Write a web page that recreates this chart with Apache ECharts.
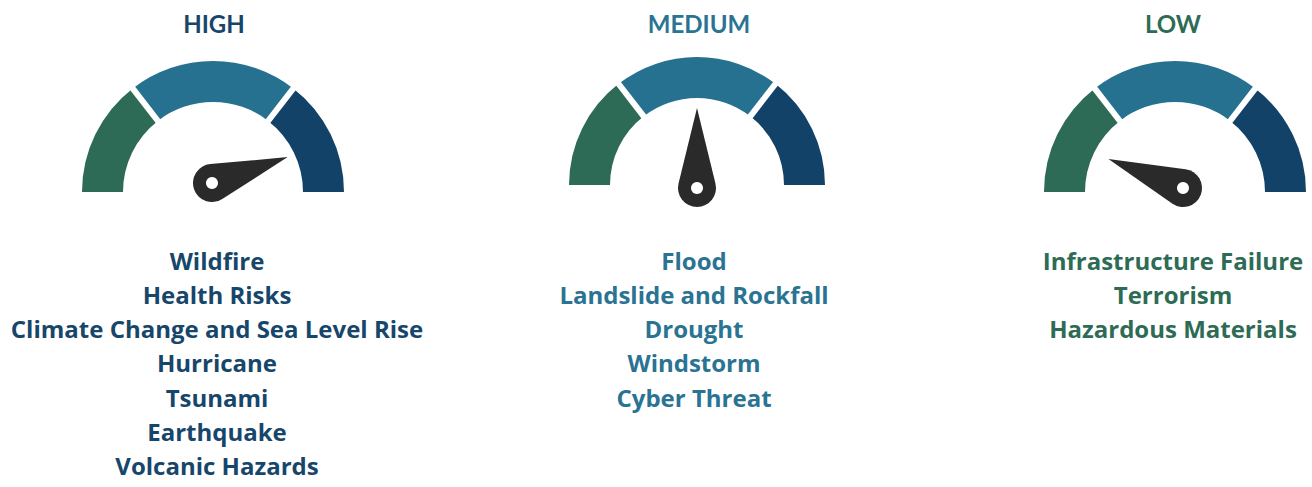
<!DOCTYPE html>
<html><head><meta charset="utf-8">
<script src="https://cdn.jsdelivr.net/npm/echarts@6/dist/echarts.min.js"></script>
<style>html,body{margin:0;padding:0;background:#fff}#chart{width:1312px;height:487px}</style>
</head><body><div id="chart"></div>
<script>
// ---- data ----
const levels = ['HIGH', 'MEDIUM', 'LOW'];
const needleValues = [89.5, 50, 11.8];
const bandStops = [0.29, 0.71, 1];
const highHazards = ['Wildfire', 'Health Risks', 'Climate Change and Sea Level Rise', 'Hurricane', 'Tsunami', 'Earthquake', 'Volcanic Hazards'];
const mediumHazards = ['Flood', 'Landslide and Rockfall', 'Drought', 'Windstorm', 'Cyber Threat'];
const lowHazards = ['Infrastructure Failure', 'Terrorism', 'Hazardous Materials'];

// ---- styles / layout ----
const hazardLists = [highHazards, mediumHazards, lowHazards];
const bandColors = ['#2e6b56', '#26718f', '#124267'];
const textColors = ['#17466b', '#2a7393', '#2e6b55'];
const needleColor = '#2a2a2a';
const TITLE_FONT = 'bold 24px Lato, "Open Sans", sans-serif';
const LIST_FONT = 'bold 24px "Open Sans", Lato, sans-serif';
const layout = [
  { arc: [213, 192], r: 131, pivot: [212, 183], tx: 214, lx: 217 },
  { arc: [697, 185], r: 128, pivot: [697, 188], tx: 699, lx: 694 },
  { arc: [1175, 192], r: 131, pivot: [1183, 188], tx: 1173, lx: 1173 }
];
const ringWidth = 41;
const listTop = 260, listStep = 34.3;

const hidden = {
  splitLine: { show: false }, axisTick: { show: false }, axisLabel: { show: false },
  title: { show: false }, detail: { show: false }
};
const series = [];
const graphic = [];
levels.forEach((lvl, i) => {
  const L = layout[i];
  // coloured bands
  series.push(Object.assign({
    type: 'gauge', center: L.arc, radius: L.r, startAngle: 180, endAngle: 0, min: 0, max: 100,
    axisLine: { lineStyle: { width: ringWidth, color: bandStops.map((s, j) => [s, bandColors[j]]) } },
    pointer: { show: false }, anchor: { show: false }, silent: true,
    data: [{ value: needleValues[i], name: lvl }]
  }, hidden));
  // white gaps between bands
  series.push(Object.assign({}, hidden, {
    type: 'gauge', center: L.arc, radius: L.r,
    startAngle: 180 - bandStops[0] * 180, endAngle: 180 - bandStops[1] * 180,
    min: 0, max: 1, splitNumber: 1,
    axisLine: { show: false, lineStyle: { width: ringWidth } },
    splitLine: { show: true, distance: -ringWidth - 2, length: ringWidth + 4, lineStyle: { color: '#ffffff', width: 6 } },
    pointer: { show: false }, anchor: { show: false }, silent: true,
    data: []
  }));
  // needle
  series.push(Object.assign({}, hidden, {
    type: 'gauge', center: L.pivot, radius: 100, startAngle: 180, endAngle: 0, min: 0, max: 100,
    axisLine: { show: false },
    pointer: {
      show: true, icon: 'path://M0,-80L18.46,-4.5A19,19,0,1,1,-18.46,-4.5Z',
      width: 38, length: 99, offsetCenter: [0, 19], keepAspect: false,
      itemStyle: { color: needleColor }
    },
    anchor: { show: true, showAbove: true, size: 12, icon: 'circle', itemStyle: { color: '#ffffff' } },
    silent: true,
    data: [{ value: needleValues[i], name: lvl }]
  }));
  // level title
  graphic.push({
    type: 'text', x: L.tx, y: 23,
    style: { text: lvl, fill: textColors[i], font: TITLE_FONT, textAlign: 'center', textVerticalAlign: 'middle' }
  });
  hazardLists[i].forEach((h, k) => {
    graphic.push({
      type: 'text', x: L.lx, y: listTop + k * listStep,
      style: { text: h, fill: textColors[i], font: LIST_FONT, textAlign: 'center', textVerticalAlign: 'middle' }
    });
  });
});

const chart = echarts.init(document.getElementById('chart'), null, { renderer: 'svg' });
chart.setOption({ backgroundColor: '#ffffff', animation: false, series, graphic });
</script></body></html>
